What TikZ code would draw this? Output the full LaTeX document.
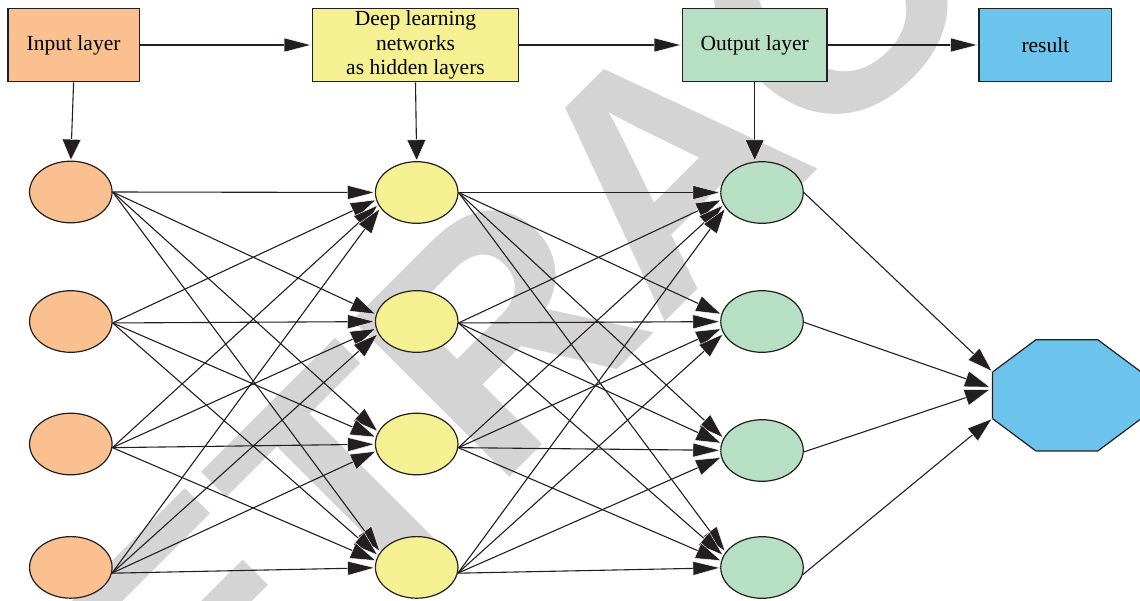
\documentclass[tikz,border=0pt]{standalone}
\usepackage{fontspec}
\setmainfont{Liberation Serif}
\newfontfamily\wmfont{Liberation Sans}
\usetikzlibrary{arrows.meta,shapes.geometric,calc}

\definecolor{ink}{RGB}{35,31,32}
\definecolor{orangefill}{RGB}{250,192,143}
\definecolor{yellowfill}{RGB}{245,240,146}
\definecolor{greenfill}{RGB}{182,223,195}
\definecolor{bluefill}{RGB}{108,195,236}
\definecolor{wmgray}{RGB}{212,212,212}

\begin{document}
\begin{tikzpicture}[x=1pt, y=-1pt,
  box/.style={rectangle, draw=ink, line width=1.2pt, inner sep=0pt,
    minimum height=73.4pt, align=center,
    font=\fontsize{21.5}{24.5}\selectfont},
  neuron/.style={ellipse, draw=ink, line width=1.2pt, inner sep=0pt,
    minimum width=82.5pt, minimum height=61.6pt},
  port/.style={ellipse, inner sep=0pt, minimum width=32pt, minimum height=44pt},
  wire/.style={draw=ink, line width=1.1pt},
  hlink/.style={wire, -{Triangle[length=28pt, width=14.5pt, fill=ink, color=white, line width=0.4pt]}},
  dlink/.style={wire, -{Triangle[length=26pt, width=17pt, fill=ink, color=white, line width=0.4pt]}},
  vlink/.style={wire, -{Triangle[length=21.5pt, width=19.5pt, fill=ink, color=white, line width=0.4pt]}},
]
\useasboundingbox (0,0) rectangle (1140,600);

% watermark lettering behind the diagram
\node[rotate=45, inner sep=0pt, text=wmgray,
      font=\wmfont\bfseries\fontsize{322}{322}\selectfont] (wm) at (663,167) {RETRACTED};

% top row of blocks
\node[box, fill=orangefill, minimum width=131.4pt] (in)   at (73.6,45)   {Input layer};
\node[box, fill=yellowfill, minimum width=206pt]   (deep) at (415.5,45)  {Deep learning\\networks\\as hidden layers};
\node[box, fill=greenfill,  minimum width=144.5pt] (outb) at (754.7,45)  {Output layer};
\node[box, fill=bluefill,   minimum width=132.8pt] (res)  at (1045.4,45) {result};

% neuron columns
\foreach \i/\y in {1/192, 2/321.5, 3/444, 4/567.4}
  \node[neuron, fill=orangefill] (o\i) at (70.8,\y) {};
\foreach \i/\y in {1/192.5, 2/321.5, 3/444, 4/567.4}
  \node[neuron, fill=yellowfill] (y\i) at (416.7,\y) {};
\foreach \i/\y in {1/192.5, 2/321.5, 3/450.5, 4/567.5}
  \node[neuron, fill=greenfill] (g\i) at (762,\y) {};

% entry zones on the left side of the receiving neurons
\foreach \i in {1,...,4} {
  \node[port] (yp\i) at ($(y\i)+(-25,0)$) {};
  \node[port] (gp\i) at ($(g\i)+(-25,0)$) {};
}

% octagonal output unit
\node[inner sep=0pt, minimum width=148.3pt, minimum height=110.7pt] (oct) at (1066.85,395.35) {};
\draw[draw=ink, line width=1.2pt, fill=bluefill]
  ($(oct.west)+(0,-23.3)$) -- ($(oct.north west)+(43.3,0)$) -- ($(oct.north east)+(-43.3,0)$)
  -- ($(oct.east)+(0,-23.3)$) -- ($(oct.east)+(0,23.3)$) -- ($(oct.south east)+(-43.3,0)$)
  -- ($(oct.south west)+(43.3,0)$) -- ($(oct.west)+(0,23.3)$) -- cycle;
\coordinate (oa) at ($(oct.west)+(0,-23.6)$);
\coordinate (ob) at ($(oct.west)+(-2,-8)$);
\coordinate (oc) at ($(oct.west)+(-2,-6)$);
\coordinate (od) at ($(oct.west)+(0,23)$);

% top row flow
\draw[hlink] (in) -- (deep);
\draw[hlink] (deep) -- (outb);
\draw[hlink] (outb) -- (res);

% blocks feeding their neuron columns
\draw[vlink] (in.south) -- (o1.north);
\draw[vlink] (deep.south) -- (y1.north);
\draw[vlink] (outb.south) -- (outb.south |- g1.north);

% fully connected layers
\foreach \s/\a in {1/0, 2/-2, 3/-5, 4/-8}
  \foreach \t in {1,...,4} {
    \ifnum\s=\t\def\lk{hlink}\else\def\lk{dlink}\fi
    \draw[\lk] (o\s.\a) -- (yp\t);
    \draw[\lk] (y\s.\a) -- (gp\t);
  }

% output neurons into the octagon
\draw[dlink] (g1.0)   -- (oa);
\draw[dlink] (g2.-1)  -- (ob);
\draw[dlink] (g3.-2)  -- (oc);
\draw[dlink] (g4.-10) -- (od);
\end{tikzpicture}
\end{document}
